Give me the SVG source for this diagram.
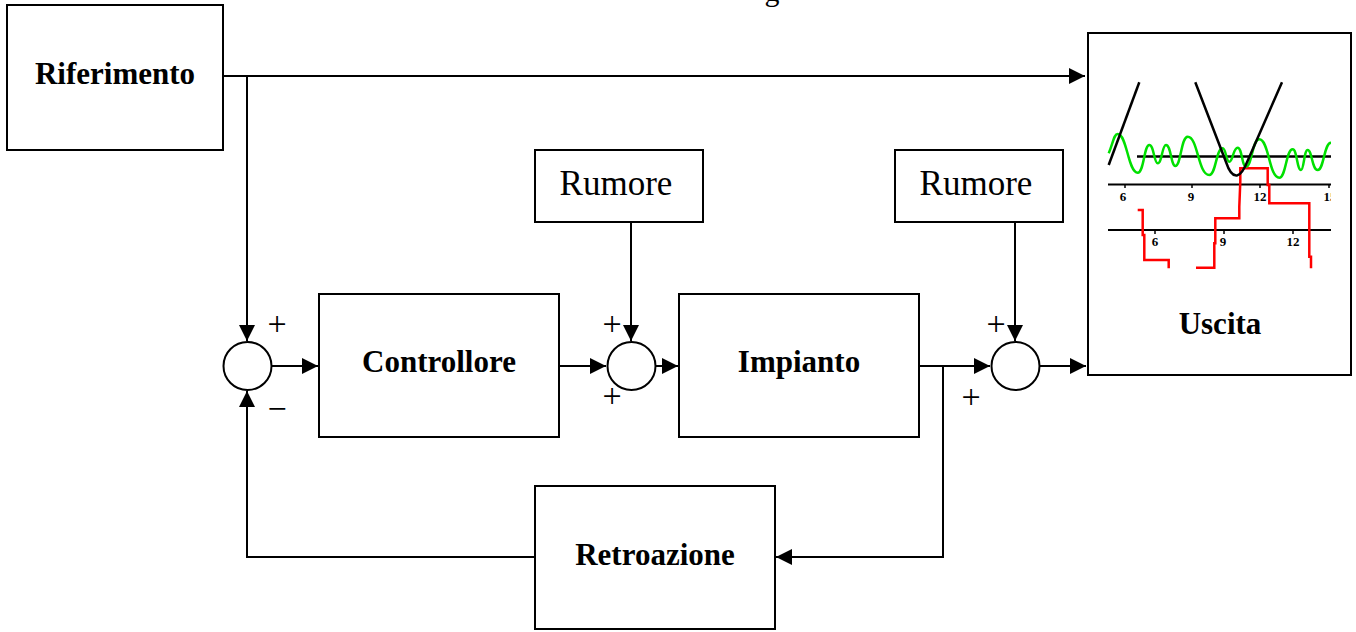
<svg xmlns="http://www.w3.org/2000/svg" width="1356" height="632" viewBox="0 0 1356 632">
<defs>
<marker id="arr" viewBox="0 0 10 10" refX="10" refY="5" markerWidth="16" markerHeight="16" markerUnits="userSpaceOnUse" orient="auto">
<path d="M0,0 L10,5 L0,10 z" fill="#000"/>
</marker>
<clipPath id="uclip"><rect x="1088" y="34" width="243" height="340"/></clipPath>
</defs>
<style>
.box{fill:#fff;stroke:#000;stroke-width:2}
.sum{fill:#fff;stroke:#000;stroke-width:2}
.bl{font-family:"Liberation Serif","Times New Roman",serif;font-weight:bold;font-size:31px;text-anchor:middle;fill:#000}
.rl{font-family:"Liberation Serif","Times New Roman",serif;font-size:35px;text-anchor:middle;fill:#000}
.sg{font-family:"Liberation Serif","Times New Roman",serif;font-size:34px;text-anchor:middle;fill:#000}
.ax{font-family:"Liberation Serif","Times New Roman",serif;font-weight:bold;font-size:13px;text-anchor:middle;fill:#000}
.con{fill:none;stroke:#000;stroke-width:2}
</style>
<rect width="1356" height="632" fill="#fff"/>
<text x="772" y="1" class="rl" style="font-size:30px">g</text>

<g id="connectors">
<path class="con" d="M223,76 H1085" marker-end="url(#arr)"/>
<path class="con" d="M247,76 V341" marker-end="url(#arr)"/>
<path class="con" d="M272,366 H318" marker-end="url(#arr)"/>
<path class="con" d="M559,366 H606" marker-end="url(#arr)"/>
<path class="con" d="M631,222 V341" marker-end="url(#arr)"/>
<path class="con" d="M656,366 H678" marker-end="url(#arr)"/>
<path class="con" d="M919,366 H990" marker-end="url(#arr)"/>
<path class="con" d="M1015,222 V341" marker-end="url(#arr)"/>
<path class="con" d="M1040,366 H1086" marker-end="url(#arr)"/>
<path class="con" d="M943,366 V557 H776" marker-end="url(#arr)"/>
<path class="con" d="M535,557 H247 V391" marker-end="url(#arr)"/>
</g>

<g id="riferimento"><rect class="box" x="7" y="5" width="216" height="145"/><text class="bl" x="115" y="84">Riferimento</text></g>
<g id="controllore"><rect class="box" x="319" y="294" width="240" height="143"/><text class="bl" x="439" y="372">Controllore</text></g>
<g id="impianto"><rect class="box" x="679" y="294" width="240" height="143"/><text class="bl" x="799" y="372">Impianto</text></g>
<g id="retroazione"><rect class="box" x="535" y="486" width="240" height="143"/><text class="bl" x="655" y="565">Retroazione</text></g>
<g id="rumore1"><rect class="box" x="535" y="150" width="168" height="72"/><text class="rl" x="616" y="195">Rumore</text></g>
<g id="rumore2"><rect class="box" x="895" y="150" width="168" height="72"/><text class="rl" x="976" y="195">Rumore</text></g>

<g id="sum1"><circle class="sum" cx="247.5" cy="366" r="24"/><text class="sg" x="277" y="335">+</text><text class="sg" x="277" y="420">−</text></g>
<g id="sum2"><circle class="sum" cx="631.5" cy="366" r="24"/><text class="sg" x="612" y="335">+</text><text class="sg" x="612" y="407">+</text></g>
<g id="sum3"><circle class="sum" cx="1015.5" cy="366" r="24"/><text class="sg" x="996" y="335">+</text><text class="sg" x="971" y="408">+</text></g>

<g id="uscita">
<rect class="box" x="1088" y="33" width="263" height="342"/>
<g clip-path="url(#uclip)">
<line x1="1108" y1="184.5" x2="1331" y2="184.5" stroke="#000" stroke-width="2"/>
<line x1="1108" y1="230" x2="1331" y2="230" stroke="#000" stroke-width="2"/>
<line x1="1137" y1="156.5" x2="1331" y2="156.5" stroke="#000" stroke-width="2.5"/>
<g stroke="#000" stroke-width="1.5">
<line x1="1125" y1="184" x2="1125" y2="188"/><line x1="1192" y1="184" x2="1192" y2="188"/><line x1="1260" y1="184" x2="1260" y2="188"/><line x1="1329" y1="184" x2="1329" y2="188"/>
<line x1="1155" y1="230" x2="1155" y2="234"/><line x1="1224" y1="230" x2="1224" y2="234"/><line x1="1293" y1="230" x2="1293" y2="234"/>
</g>
<text class="ax" x="1123" y="201">6</text><text class="ax" x="1191" y="201">9</text><text class="ax" x="1260" y="201">12</text><text class="ax" x="1330" y="201">15</text>
<text class="ax" x="1155" y="246">6</text><text class="ax" x="1223" y="246">9</text><text class="ax" x="1293" y="246">12</text>
<path fill="none" stroke="#ff0000" stroke-width="2.5" d="M1137.7,210 H1142.7 V235 H1144.3 V260 H1168.7 V268.3"/>
<path fill="none" stroke="#ff0000" stroke-width="2.5" d="M1196,267.7 H1214.3 V243.3 H1215.3 V218.3 H1239.3 V206.7 L1240.3,181.7 V168.3 H1267.7 V185 H1269.3 V203.3 H1309.3 V256.7 H1311 V268.3"/>
<path fill="none" stroke="#00e000" stroke-width="2.5" d="M1108.7,153.3 C1113,143 1114,134 1117.7,134 C1127,134 1128,172.7 1137.7,172.7 C1144,172.7 1144,145 1149.3,145 C1154,145 1154,163.3 1157.7,163.3 C1162,163.3 1162,145 1166,145 C1171,145 1171,166 1175.3,166 C1181,166 1181,136.7 1187.7,136.7 C1198,136.7 1198,175 1209.3,175 C1216,175 1216,148.3 1222.7,148.3 C1226,148.3 1226,161.7 1229.3,161.7 C1233,161.7 1233,147.7 1237.7,147.7 C1242,147.7 1242,166.7 1246,166.7 C1252,166.7 1252,139.3 1259.3,139.3 C1269,139.3 1269,177.7 1279.3,177.7 C1286,177.7 1286,149.3 1292.7,149.3 C1297,149.3 1297,170 1301,170 C1304,170 1304,150 1307.7,150 C1312,150 1312,170 1317.7,170 C1324,170 1324,142.7 1331,142.7"/>
<path fill="none" stroke="#000" stroke-width="2.5" d="M1108.7,165 L1139.3,82.3"/>
<path fill="none" stroke="#000" stroke-width="2.5" d="M1195.3,82.3 L1226,162 C1230,174 1234,176 1237,175.5 C1241,175 1244,170 1248,160 L1282,82.3"/>
</g>
<text class="bl" x="1220" y="334">Uscita</text>
</g>
</svg>
